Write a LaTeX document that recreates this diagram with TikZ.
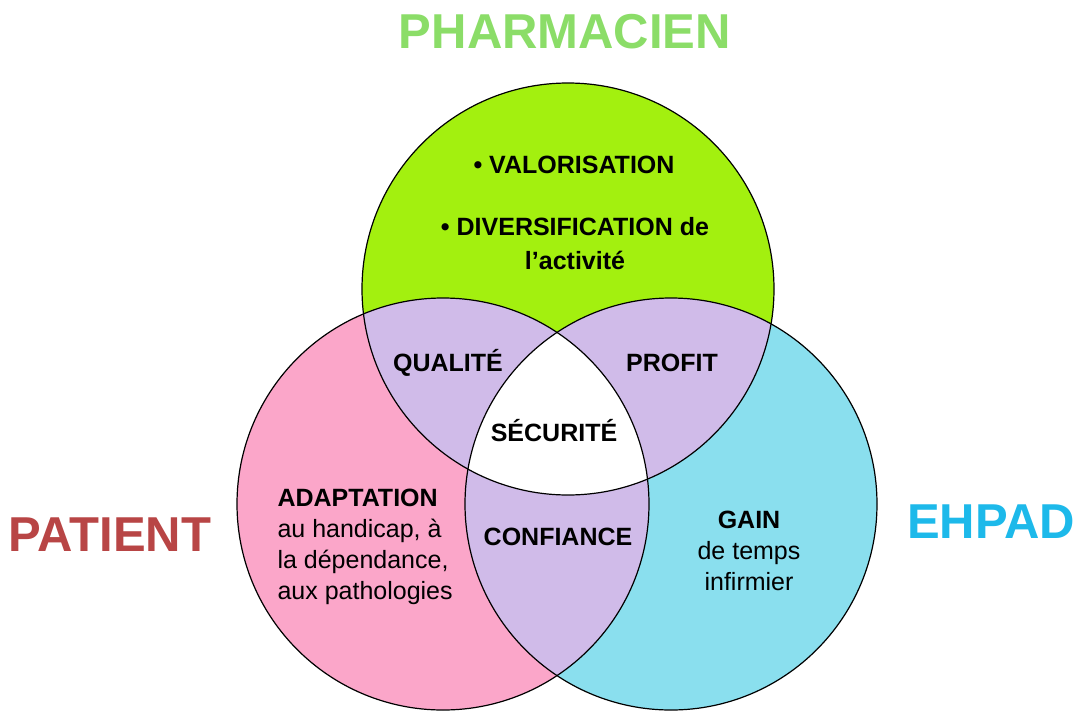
\documentclass[tikz,border=0pt]{standalone}
\usepackage{fontspec}
\setmainfont{Liberation Sans}
\usetikzlibrary{positioning}
\definecolor{pharmgreen}{HTML}{A3F00F}
\definecolor{patientpink}{HTML}{FBA6C9}
\definecolor{ehpadblue}{HTML}{8ADFEE}
\definecolor{overlapviolet}{HTML}{D0BBE9}
\definecolor{titlegreen}{HTML}{8BDD68}
\definecolor{titlered}{HTML}{B84545}
\definecolor{titleblue}{HTML}{1DB9EA}

\begin{document}
\begin{tikzpicture}[x=1pt,y=-1pt,
    title/.style={font=\fontsize{49}{50}\selectfont\bfseries},
    zone/.style={font=\fontsize{25}{34}\selectfont\bfseries, align=center},
    body/.style={font=\fontsize{25}{31}\selectfont}]
  \useasboundingbox (0,0) rectangle (1076,710);
  % centres of the three sets
  \coordinate (cPharm) at (568,289);
  \coordinate (cPatient) at (443,504);
  \coordinate (cEhpad) at (671,504);
  \def\rad{206pt}

  % sets
  \fill[pharmgreen] (cPharm) circle[radius=\rad];
  \fill[patientpink] (cPatient) circle[radius=\rad];
  \fill[ehpadblue] (cEhpad) circle[radius=\rad];
  % overlaps
  \begin{scope}
    \clip (cPharm) circle[radius=\rad];
    \fill[overlapviolet] (cPatient) circle[radius=\rad];
    \fill[overlapviolet] (cEhpad) circle[radius=\rad];
    \clip (cPatient) circle[radius=\rad];
    \fill[white] (cEhpad) circle[radius=\rad];
  \end{scope}
  \begin{scope}
    \clip (cPatient) circle[radius=\rad];
    \fill[overlapviolet] (cEhpad) circle[radius=\rad];
    \clip (cPharm) circle[radius=\rad];
    \fill[white] (cEhpad) circle[radius=\rad];
  \end{scope}
  \foreach \c in {cPharm,cPatient,cEhpad}
    \draw[line width=1.2pt] (\c) circle[radius=\rad];

  % titles
  \node[title, text=titlegreen] (pharm) at (565,32) {PHARMACIEN};
  \node[title, text=titlered] (patient) at (110,535) {PATIENT};
  \node[title, text=titleblue] (ehpad) at (991,522) {EHPAD};

  % contents
  \node[zone] (valor) at (574,165) {• VALORISATION};
  \node[zone] (divers) at (575,244) {• DIVERSIFICATION de\\l’activité};
  \node[zone] (qualite) at (448,363) {QUALITÉ};
  \node[zone] (profit) at (672,363) {PROFIT};
  \node[zone] (securite) at (554,431) {SÉCURITÉ};
  \node[zone] (confiance) at (558,537) {CONFIANCE};
  \node[body, align=left, anchor=west] (adapt) at (274,547)
    {\textbf{ADAPTATION}\\au handicap, à\\la dépendance,\\aux pathologies};
  \node[body, align=center] (gain) at (749,551)
    {\textbf{GAIN}\\de temps\\infirmier};
\end{tikzpicture}
\end{document}
